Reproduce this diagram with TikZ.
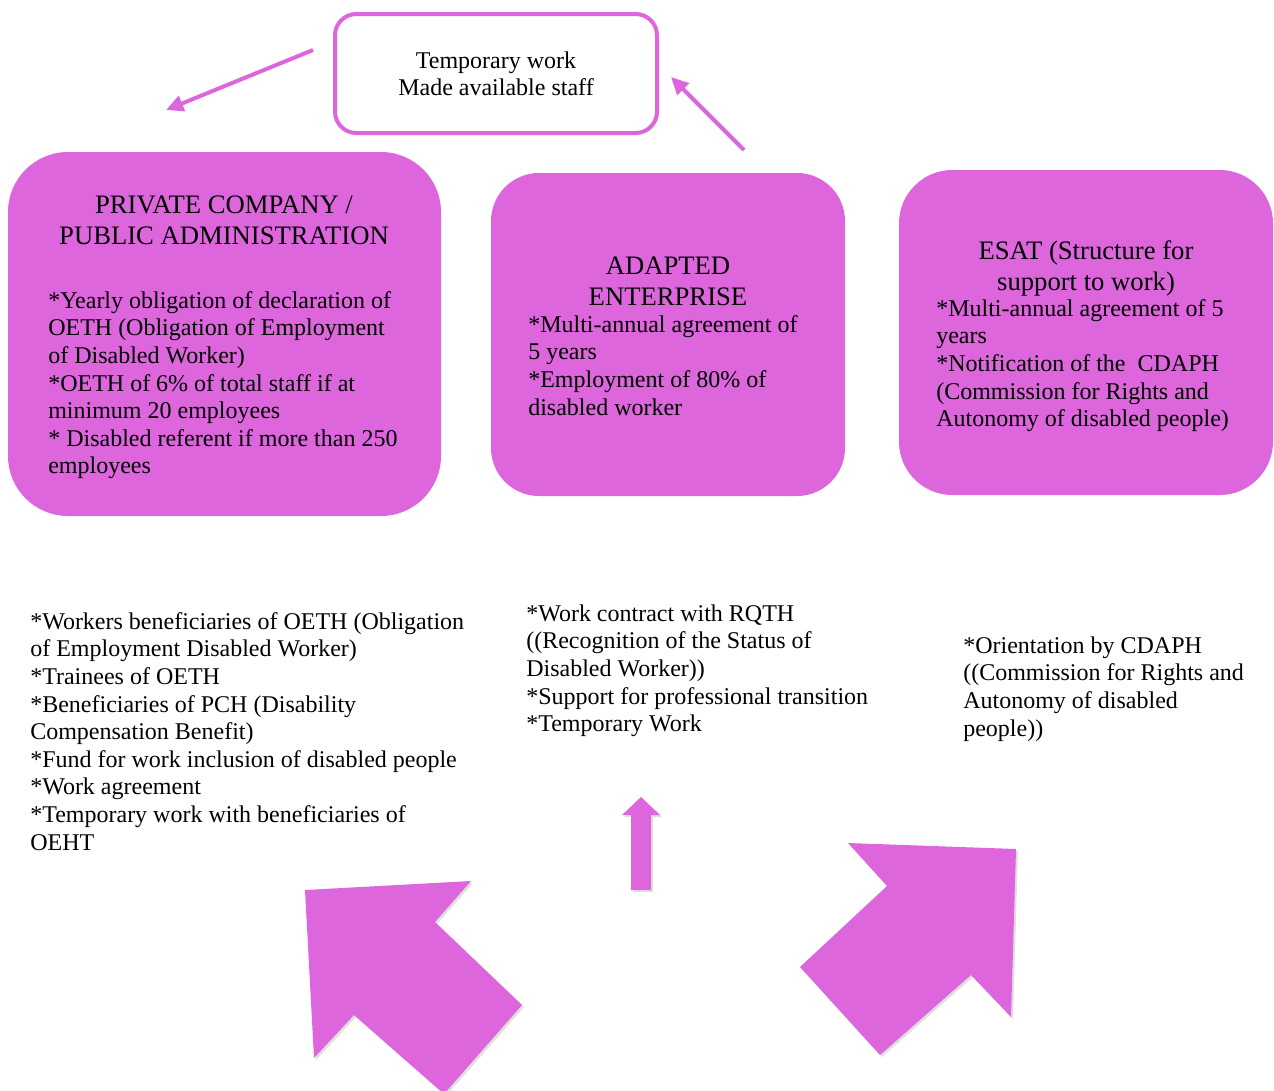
\documentclass[tikz,border=0pt]{standalone}
\usepackage{fontspec}
\setmainfont{Liberation Serif}
\usetikzlibrary{arrows.meta,shadows}
\definecolor{orchidfill}{RGB}{221,102,221}
\tikzset{
  bigbox/.style={rectangle, fill=orchidfill, inner sep=0pt, outer sep=0pt},
  tempbox/.style={rectangle, draw=orchidfill, line width=3pt, fill=white, rounded corners=16pt,
    minimum width=241.5pt, minimum height=89.25pt, align=center, font=\fontsize{18}{20.25}\selectfont},
  titletext/.style={inner sep=0pt, align=center, anchor=north, font=\fontsize{20}{23.25}\selectfont},
  bodytext/.style={inner sep=0pt, align=left, anchor=north west, font=\fontsize{18}{20.7}\selectfont},
  thinarrow/.style={draw=orchidfill, line width=3pt, -{Triangle[length=13pt,width=12pt]}},
  blockarrow/.style={fill=orchidfill, drop shadow={shadow xshift=1.5pt, shadow yshift=-1.5pt, opacity=0.25}}
}
\begin{document}
\begin{tikzpicture}[x=0.75pt, y=-0.75pt]
\useasboundingbox (0,0) rectangle (1274,1090);

% Top box
\node[tempbox] (temp) at (496,73.5) {Temporary work\\Made available staff};
\coordinate (leftfrom) at (313,50);
\coordinate (leftto) at (166,110);
\coordinate (rightfrom) at (744,150);
\coordinate (rightto) at (671,77);
\draw[thinarrow] (leftfrom) -- (leftto);
\draw[thinarrow] (rightfrom) -- (rightto);

% Structures
\node[bigbox, rounded corners=45pt, minimum width=324.75pt, minimum height=273pt] (private) at (224.5,334) {};
\node[bigbox, rounded corners=36pt, minimum width=265.5pt, minimum height=242.25pt] (adapted) at (668,334.5) {};
\node[bigbox, rounded corners=40pt, minimum width=280.5pt, minimum height=243.75pt] (esat) at (1086,332.5) {};

\node[titletext] (privatetitle) at (224,191.3) {\strut PRIVATE COMPANY /\\PUBLIC ADMINISTRATION};
\node[bodytext] (privatebody) at (48,288.7) {\strut*Yearly obligation of declaration of\\
  OETH (Obligation of Employment\\
  of Disabled Worker)\\
  *OETH of 6\% of total staff if at\\
  minimum 20 employees\\
  * Disabled referent if more than 250\\
  employees};

\node[titletext] (adaptedtitle) at (668,252.3) {\strut ADAPTED\\ENTERPRISE};
\node[bodytext] (adaptedbody) at (528,312.7) {\strut*Multi-annual agreement of\\
  5 years\\
  *Employment of 80\% of\\
  disabled worker};

\node[titletext] (esattitle) at (1086,237.3) {\strut ESAT (Structure for\\support to work)};
\node[bodytext] (esatbody) at (936,296.7) {\strut*Multi-annual agreement of 5\\
  years\\
  *Notification of the~ CDAPH\\
  (Commission for Rights and\\
  Autonomy of disabled people)};

% Beneficiaries
\node[bodytext] (privatelist) at (30,609.7) {\strut*Workers beneficiaries of OETH (Obligation\\
  of Employment Disabled Worker)\\
  *Trainees of OETH\\
  *Beneficiaries of PCH (Disability\\
  Compensation Benefit)\\
  *Fund for work inclusion of disabled people\\
  *Work agreement\\
  *Temporary work with beneficiaries of\\
  OEHT};
\node[bodytext] (adaptedlist) at (526,601.7) {\strut*Work contract with RQTH\\
  ((Recognition of the Status of\\
  Disabled Worker))\\
  *Support for professional transition\\
  *Temporary Work};
\node[bodytext] (esatlist) at (963,633.7) {\strut*Orientation by CDAPH\\
  ((Commission for Rights and\\
  Autonomy of disabled\\
  people))};

% Block arrows
\path[blockarrow] (305,890) -- (471,881) -- (435,922) -- (522,1005) -- (444,1094)
  -- (354,1015) -- (314,1058) -- cycle;
\path[blockarrow] (641,797) -- (660,815) -- (651,815) -- (651,890) -- (631,890)
  -- (631,815) -- (622,815) -- cycle;
\path[blockarrow] (848,843) -- (1016,849) -- (1011,1017) -- (971,975) -- (880,1055)
  -- (800,967) -- (887,886) -- cycle;

\end{tikzpicture}
\end{document}
